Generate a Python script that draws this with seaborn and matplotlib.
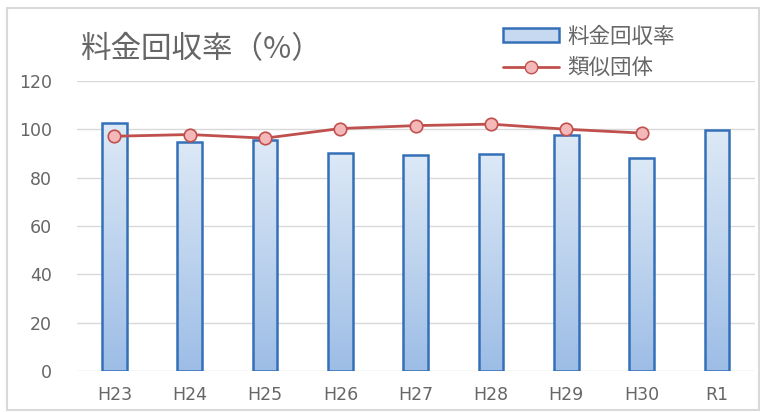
import numpy as np
import pandas as pd
import seaborn as sns
import matplotlib.pyplot as plt
from matplotlib.patches import Rectangle
from matplotlib.lines import Line2D
from matplotlib.colors import LinearSegmentedColormap

years = ["H23", "H24", "H25", "H26", "H27", "H28", "H29", "H30", "R1"]
recovery = [102.6, 94.9, 95.6, 90.3, 89.4, 89.9, 97.8, 88.3, 99.7]
similar = [97.2, 97.9, 96.4, 100.4, 101.6, 102.2, 100.1, 98.5, np.nan]

sns.set_theme(style="white")
plt.rcParams['font.family'] = ['Noto Sans CJK JP', 'DejaVu Sans']

df = pd.DataFrame({"year": years, "recovery": recovery, "similar": similar})

fig = plt.figure(figsize=(7.6, 4.12), dpi=100)
ax = fig.add_axes([0.101, 0.0995, 0.892, 0.7035])

sns.barplot(data=df, x="year", y="recovery", width=0.33, color="#c6d9f0",
            edgecolor="#3470b8", linewidth=1.8, ax=ax)

# vertical gradient on bars
cmap = LinearSegmentedColormap.from_list("g", ["#9dbde6", "#dde9f6"])
grad = np.linspace(0, 1, 256).reshape(-1, 1)
for p in ax.patches:
    x0, y0 = p.get_x(), p.get_y()
    w, h = p.get_width(), p.get_height()
    im = ax.imshow(grad, cmap=cmap, origin="lower", aspect="auto",
                   extent=[x0, x0 + w, y0, y0 + h], zorder=p.get_zorder() - 0.1)
    im.set_clip_path(p)
    p.set_facecolor("none")
    p.set_zorder(3)

sns.lineplot(x=np.arange(len(years)), y=similar, color="#c0504d", linewidth=2,
             marker="o", markersize=9, markerfacecolor="#f4b8b8",
             markeredgecolor="#c0504d", markeredgewidth=1.2, ax=ax, zorder=5)

ax.set_xlim(-0.5, len(years) - 0.5)
ax.set_ylim(0, 120)
ax.set_yticks(range(0, 121, 20))
ax.yaxis.grid(True, color="#d9d9d9", linewidth=1)
ax.set_axisbelow(True)
for s in ax.spines.values():
    s.set_visible(False)
ax.set_xlabel("")
ax.set_ylabel("")
ax.tick_params(axis="both", labelsize=12.5, labelcolor="#666666", length=0)
for lab in ax.get_xticklabels() + ax.get_yticklabels():
    lab.set_family("DejaVu Sans")
ax.tick_params(axis="y", pad=18)
ax.tick_params(axis="x", pad=11)

fig.text(0.105, 0.88, "料金回収率（%）", fontsize=22, color="#666666", va="center")

handles = [Rectangle((0, 0), 1, 1, facecolor="#c6d9f0", edgecolor="#3470b8", linewidth=1.8),
           Line2D([], [], color="#c0504d", linewidth=2, marker="o", markersize=9,
                  markerfacecolor="#f4b8b8", markeredgecolor="#c0504d")]
fig.legend(handles, ["料金回収率", "類似団体"], loc="upper left",
           bbox_to_anchor=(0.636, 0.985), frameon=False, fontsize=15.5,
           labelcolor="#666666", handlelength=2.6, handleheight=0.6,
           handletextpad=0.4, labelspacing=0.45)

fig.patches.append(Rectangle((7 / 760, 0.005), 0.99, 0.975, transform=fig.transFigure,
                             fill=False, edgecolor="#d9d9d9", linewidth=1.5))

fig.savefig("out.png", dpi=100)
